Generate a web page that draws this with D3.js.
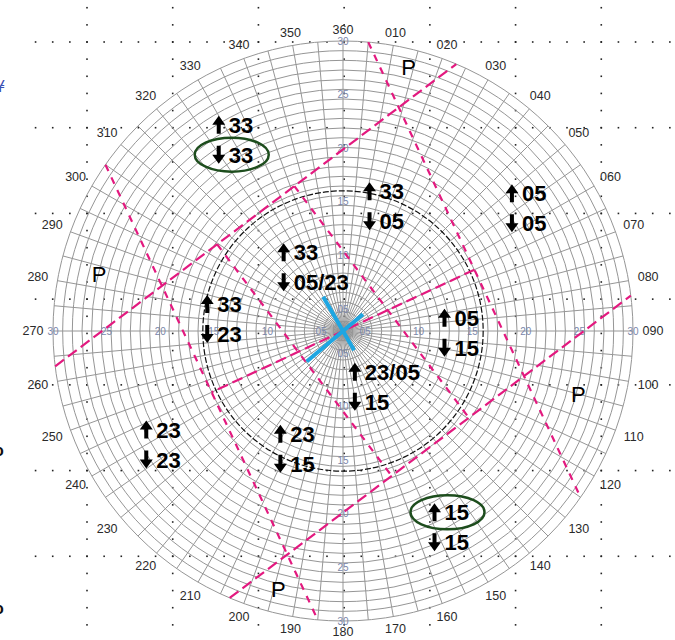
<!DOCTYPE html>
<html>
<head>
<meta charset="utf-8">
<script src="https://d3js.org/d3.v7.min.js"></script>
<style>
  body { margin: 0; background: #fff; }
  svg { display: block; }
</style>
</head>
<body>
<script>
// --- values ---
const dirLabels = ['010','020','030','040','050','060','070','080','090','100','110','120',
                   '130','140','150','160','170','180','190','200','210','220','230','240',
                   '250','260','270','280','290','300','310','320','330','340','350','360'];
const ringLabels = ['05','10','15','20','25','30'];
const ringValues = [5, 10, 15, 20, 25, 30];
const axisBearings = [0, 90, 180, 270];

// runways (blue bars): heading, length toward heading / toward reciprocal (kt units)
const runwayNames = ['05/23', '15/33'];
const runwayHeadings = [50, 150];
const runwayFwd = [2.7, 2.3];
const runwayBack = [4.9, 4.1];

// limit lines (pink): heading used, crosswind limit, along-wind lines
const limitHeadings = [53, 155];
const crossLimits = [15, 15];
const alongLimits = [[-5, 5], [0]];

// black dashed reference circle (kt)
const refCircle = 14.5;

// zone labels: wind direction / speed of the label anchor, takeoff and landing runway
const zoneDir = [327, 12, 54, 317, 275, 91, 168, 208, 240, 155];
const zoneSpeed = [23.6, 13.2, 21.6, 9.0, 14.1, 10.5, 5.9, 13.8, 23.5, 22.4];
const zoneTakeoff = ['33', '33', '05', '33', '33', '05', '23/05', '23', '23', '15'];
const zoneLanding = ['33', '05', '05', '05/23', '23', '15', '15', '15', '23', '15'];
const zoneCircled = ['down', '', '', '', '', '', '', '', '', 'up'];

// "P" areas
const pDir = [14, 283, 105, 194];
const pSpeed = [28.1, 25.9, 25.2, 27.6];

// --- drawing ---
const width = 675, height = 640;
const cx = 343, cy = 331, R = 290;

const svg = d3.select('body').append('svg')
  .attr('width', width).attr('height', height);

const x = d3.scaleLinear().domain([-30, 30]).range([cx - R, cx + R]);
const y = d3.scaleLinear().domain([-30, 30]).range([cy + R, cy - R]);
const r = d3.scaleLinear().domain([0, 30]).range([0, R]);
const rLabel = d3.scaleLinear().domain([5, 30]).range([22, 290]);
const rad = d => d * Math.PI / 180;
const polar = (dir, kt, sc = r) => [cx + sc(kt) * Math.sin(rad(dir)), cy - sc(kt) * Math.cos(rad(dir))];

// background dotted grid
const step = 600 / 7, small = step / 5;
const dots = [];
d3.range(0, 8).forEach(k => {
  const yy = 42 + k * step;
  for (let xx = 87 - 3 * small; xx < width; xx += small) dots.push([xx, yy]);
});
d3.range(0, 7).forEach(k => {
  const xx = 87 + k * step;
  for (let yy = 42 - 2 * small; yy < height; yy += small) dots.push([xx, yy]);
});
svg.append('g').selectAll('rect').data(dots).join('rect')
  .attr('x', d => d[0] - 0.8).attr('y', d => d[1] - 0.8)
  .attr('width', 1.6).attr('height', 1.6).attr('fill', '#222');

// polar grid
const grid = svg.append('g').attr('stroke', '#969696').attr('fill', 'none').attr('stroke-width', 1);
grid.selectAll('circle').data(d3.range(1, 31)).join('circle')
  .attr('cx', cx).attr('cy', cy).attr('r', d => r(d));
grid.selectAll('line').data(d3.range(0, 360, 5)).join('line')
  .attr('x1', cx).attr('y1', cy)
  .attr('x2', d => polar(d, 30)[0]).attr('y2', d => polar(d, 30)[1]);

// ring labels
const ringG = svg.append('g')
  .attr('font-family', 'Liberation Sans, Arial, sans-serif')
  .attr('font-size', 10).attr('fill', '#7a86aa')
  .attr('text-anchor', 'middle').attr('dominant-baseline', 'central');
axisBearings.forEach(b => {
  ringG.selectAll(null).data(ringValues).join('text')
    .attr('x', (d) => polar(b, d, rLabel)[0])
    .attr('y', (d) => polar(b, d, rLabel)[1])
    .text((d, i) => ringLabels[i]);
});

// black dashed circle
svg.append('circle')
  .attr('cx', cx).attr('cy', cy).attr('r', r(refCircle))
  .attr('fill', 'none').attr('stroke', '#111')
  .attr('stroke-width', 1.2).attr('stroke-dasharray', '6,2');

// pink limit lines
const toXY = (h, s, c) => {
  const east = s * Math.sin(rad(h)) + c * Math.cos(rad(h));
  const north = s * Math.cos(rad(h)) - c * Math.sin(rad(h));
  return [x(east), y(north)];
};
const limitLines = [];
limitHeadings.forEach((h, i) => {
  const lim = crossLimits[i];
  const half = Math.sqrt(30 * 30 - lim * lim);
  [-lim, lim].forEach(c => limitLines.push([toXY(h, -half, c), toXY(h, half, c)]));
  alongLimits[i].forEach(s => limitLines.push([toXY(h, s, -lim), toXY(h, s, lim)]));
});
svg.append('g').selectAll('line').data(limitLines).join('line')
  .attr('x1', d => d[0][0]).attr('y1', d => d[0][1])
  .attr('x2', d => d[1][0]).attr('y2', d => d[1][1])
  .attr('stroke', '#e3197f').attr('stroke-width', 2.2)
  .attr('stroke-dasharray', d => {
    const steep = Math.abs(d[1][1] - d[0][1]) > Math.abs(d[1][0] - d[0][0]);
    return steep ? '7,7' : '11,5';
  });

// runway bars
svg.append('g').selectAll('line').data(runwayNames).join('line')
  .attr('x1', (d, i) => polar(runwayHeadings[i], runwayFwd[i])[0])
  .attr('y1', (d, i) => polar(runwayHeadings[i], runwayFwd[i])[1])
  .attr('x2', (d, i) => polar(runwayHeadings[i] + 180, runwayBack[i])[0])
  .attr('y2', (d, i) => polar(runwayHeadings[i] + 180, runwayBack[i])[1])
  .attr('stroke', '#1ea6e2').attr('stroke-width', 4);

// direction labels
const labelRadius = d => 301 + 9 * Math.abs(Math.sin(rad(d)));
svg.append('g')
  .attr('font-family', 'Liberation Sans, Arial, sans-serif')
  .attr('font-size', 12.5).attr('fill', '#2a2a2a')
  .attr('text-anchor', 'middle').attr('dominant-baseline', 'central')
  .selectAll('text').data(dirLabels).join('text')
  .attr('x', d => cx + labelRadius(+d) * Math.sin(rad(+d)))
  .attr('y', d => cy - labelRadius(+d) * Math.cos(rad(+d)))
  .text(d => d);

// zone labels
const arrow = (g, ax, ay, up) => {
  const s = up ? 1 : -1;
  g.append('path')
    .attr('d', `M${ax},${ay - 9 * s} L${ax - 6.5},${ay} L${ax - 2},${ay}
                L${ax - 2},${ay + 9 * s} L${ax + 2},${ay + 9 * s} L${ax + 2},${ay}
                L${ax + 6.5},${ay} Z`)
    .attr('fill', '#000');
};
const zoneG = svg.append('g')
  .attr('font-family', 'Liberation Sans, Arial, sans-serif')
  .attr('font-size', 22).attr('font-weight', 'bold').attr('fill', '#000');
zoneDir.forEach((dir, i) => {
  const [ax, ay] = polar(dir, zoneSpeed[i]);
  const rows = [[ay - 15, zoneTakeoff[i], true, 'up'], [ay + 15, zoneLanding[i], false, 'down']];
  rows.forEach(([ry, txt, up, key]) => {
    arrow(zoneG, ax, ry, up);
    zoneG.append('text').attr('x', ax + 10).attr('y', ry + 8).text(txt);
    if (zoneCircled[i] === key) {
      zoneG.append('ellipse')
        .attr('cx', ax + 13).attr('cy', ry).attr('rx', 37).attr('ry', 17)
        .attr('fill', 'none').attr('stroke', '#1d4d1d').attr('stroke-width', 2.5);
    }
  });
});

// P labels
svg.append('g')
  .attr('font-family', 'Liberation Sans, Arial, sans-serif')
  .attr('font-size', 22).attr('fill', '#000')
  .attr('text-anchor', 'middle').attr('dominant-baseline', 'central')
  .selectAll('text').data(pDir).join('text')
  .attr('x', (d, i) => polar(d, pSpeed[i])[0])
  .attr('y', (d, i) => polar(d, pSpeed[i])[1])
  .text('P');

// cropped glyphs at the left edge of the screenshot
svg.append('text').attr('x', -5).attr('y', 92)
  .attr('font-family', 'DejaVu Sans, sans-serif').attr('font-size', 16)
  .attr('fill', '#3b4fb3').text('¥');
[456, 614].forEach(yy => svg.append('text').attr('x', -6).attr('y', yy)
  .attr('font-family', 'Liberation Sans, Arial, sans-serif').attr('font-size', 16)
  .attr('font-weight', 'bold').attr('fill', '#111').text('o'));
</script>
</body>
</html>
